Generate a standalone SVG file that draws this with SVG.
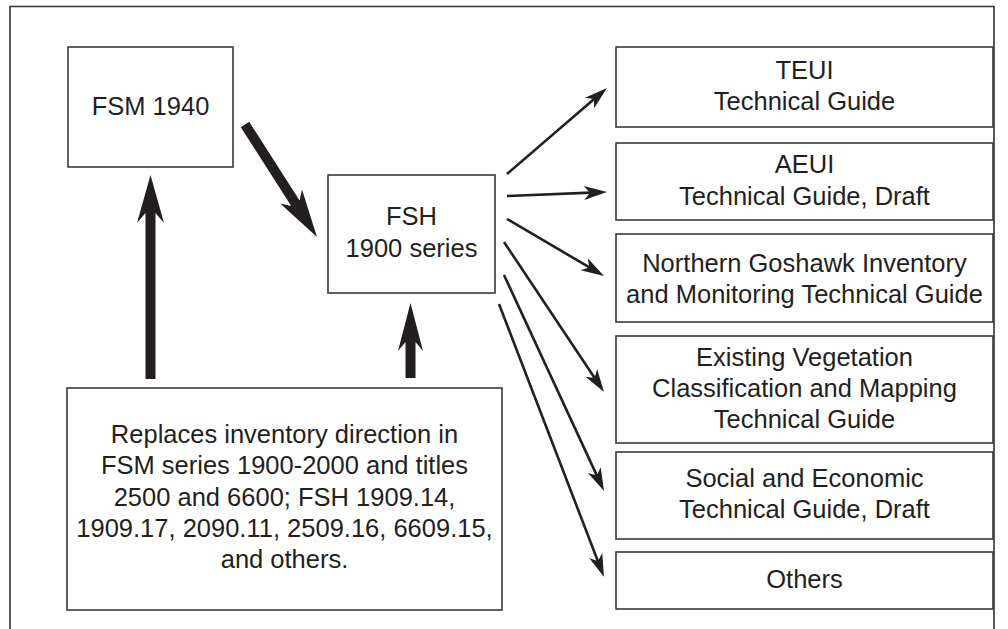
<svg xmlns="http://www.w3.org/2000/svg" width="1008" height="629" viewBox="0 0 1008 629">
<style>
.box{fill:#fff;stroke:#3a3a3a;stroke-width:1.6}
.t{font-family:"Liberation Sans",Arial,Helvetica,sans-serif;font-size:25.5px;fill:#231f20;text-anchor:middle}
.thin{stroke:#231f20;stroke-width:2.6;fill:none;marker-end:url(#ah)}
.thick{fill:#231f20;stroke:none}
</style>
<defs>
<marker id="ah" markerUnits="userSpaceOnUse" orient="auto" markerWidth="40" markerHeight="30" viewBox="-20 -15 40 30" refX="0" refY="0" overflow="visible">
<path d="M10,0 L-13,-7 L-7,0 L-13,7 Z" fill="#231f20"/>
</marker>
</defs>
<rect width="1008" height="629" fill="#fff"/>
<path d="M10,640 V6.5 H994 V640" fill="none" stroke="#333" stroke-width="1.6"/>

<g id="fsm1940">
<rect class="box" x="68" y="47" width="165" height="120"/>
<text class="t" x="150.5" y="115">FSM 1940</text>
</g>

<g id="fsh1900">
<rect class="box" x="328" y="175" width="167" height="118"/>
<text class="t" x="411.5" y="225">FSH</text>
<text class="t" x="411.5" y="257">1900 series</text>
</g>

<g id="replaces">
<rect class="box" x="67" y="388" width="435" height="222"/>
<text class="t" x="284.5" y="443">Replaces inventory direction in</text>
<text class="t" x="284.5" y="474">FSM series 1900-2000 and titles</text>
<text class="t" x="284.5" y="505.5">2500 and 6600; FSH 1909.14,</text>
<text class="t" x="284.5" y="537">1909.17, 2090.11, 2509.16, 6609.15,</text>
<text class="t" x="284.5" y="568">and others.</text>
</g>

<g id="teui">
<rect class="box" x="616" y="47" width="377" height="80"/>
<text class="t" x="804.5" y="79">TEUI</text>
<text class="t" x="804.5" y="110">Technical Guide</text>
</g>

<g id="aeui">
<rect class="box" x="616" y="143" width="377" height="77"/>
<text class="t" x="804.5" y="173">AEUI</text>
<text class="t" x="804.5" y="205">Technical Guide, Draft</text>
</g>

<g id="goshawk">
<rect class="box" x="616" y="234" width="377" height="88"/>
<text class="t" x="804.5" y="272">Northern Goshawk Inventory</text>
<text class="t" x="804.5" y="303">and Monitoring Technical Guide</text>
</g>

<g id="vegetation">
<rect class="box" x="616" y="336" width="377" height="107"/>
<text class="t" x="804.5" y="366">Existing Vegetation</text>
<text class="t" x="804.5" y="397">Classification and Mapping</text>
<text class="t" x="804.5" y="428">Technical Guide</text>
</g>

<g id="social">
<rect class="box" x="616" y="452" width="377" height="87"/>
<text class="t" x="804.5" y="487">Social and Economic</text>
<text class="t" x="804.5" y="518">Technical Guide, Draft</text>
</g>

<g id="others">
<rect class="box" x="616" y="552" width="377" height="57"/>
<text class="t" x="804.5" y="588">Others</text>
</g>

<g id="connectors">
<polygon class="thick" points="150.5,175 164,223 155.5,213 155.5,379 145.5,379 145.5,213 137,223"/>
<polygon class="thick" points="410.5,303 423,351 415.5,342 415.5,378 405.5,378 405.5,342 398,351"/>
<polygon class="thick" points="317,237 280.2,203.6 291.2,206 240.8,127.2 249.2,121.8 299.6,200.6 302,189.6"/>
<line class="thin" x1="507" y1="174" x2="599.4" y2="94.5"/>
<line class="thin" x1="507" y1="196" x2="597" y2="192.4"/>
<line class="thin" x1="507" y1="219" x2="595.4" y2="270.9"/>
<line class="thin" x1="504" y1="242" x2="598.5" y2="383.7"/>
<line class="thin" x1="504" y1="275" x2="599.8" y2="481.9"/>
<line class="thin" x1="499" y1="304" x2="600.4" y2="567.7"/>
</g>
</svg>
